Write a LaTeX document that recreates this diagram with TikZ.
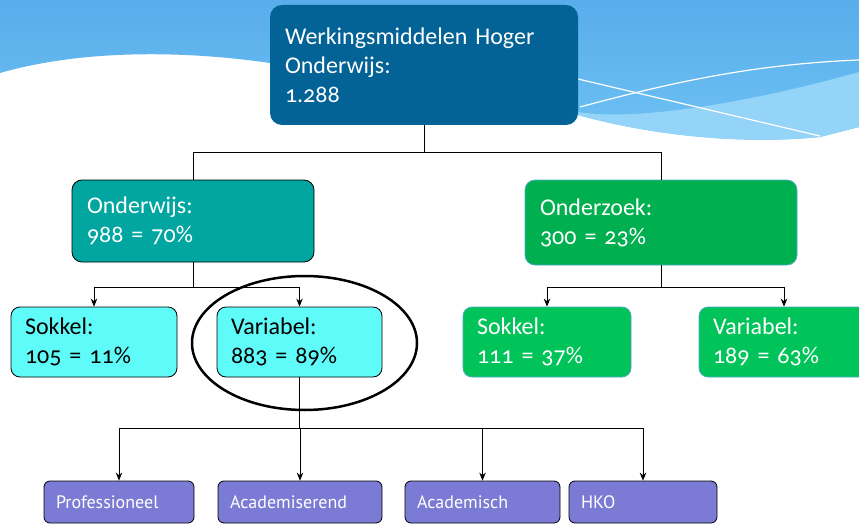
\documentclass[tikz,border=0pt]{standalone}
\usepackage{fontspec}
\setmainfont{Carlito}[Numbers=OldStyle]
\newfontfamily\typefont{PT Sans}
\usetikzlibrary{shapes.geometric, arrows.meta}
\definecolor{topblue}{HTML}{036396}
\definecolor{owteal}{HTML}{00A69F}
\definecolor{ozgreen}{HTML}{00B050}
\definecolor{lowcyan}{HTML}{5FFBF9}
\definecolor{lowgreen}{HTML}{00C35A}
\definecolor{typeblue}{HTML}{7B7BD5}
\definecolor{edgeblue}{HTML}{4BACC6}
\definecolor{skytop}{HTML}{58ADEB}
\definecolor{skylow}{HTML}{6EC2F3}
\definecolor{skylight}{HTML}{93D4F8}
\tikzstyle{topbox} = [rectangle, rounded corners=12pt, minimum width=308pt, minimum height=120pt, inner xsep=15pt, inner ysep=0pt, align=left, fill=topblue, text=white, font=\fontsize{24}{29}\selectfont]
\tikzstyle{midbox} = [rectangle, rounded corners=10pt, inner xsep=15pt, inner ysep=0pt, align=left, text=white, line width=0.8pt, font=\fontsize{24}{29}\selectfont]
\tikzstyle{lowbox} = [rectangle, rounded corners=9pt, minimum height=70pt, inner xsep=14pt, inner ysep=0pt, align=left, line width=0.8pt, font=\fontsize{24}{29}\selectfont]
\tikzstyle{typebox} = [rectangle, rounded corners=6pt, minimum height=42pt, inner xsep=12pt, inner ysep=0pt, align=left, draw=black, fill=typeblue, text=white, line width=0.8pt, font=\typefont\fontsize{18}{20}\selectfont]
\tikzstyle{line} = [black, line width=0.8pt]
\tikzstyle{arrow} = [line,->,>={Stealth[length=8pt, width=6.5pt]}]

\begin{document}
\begin{tikzpicture}[x=1pt, y=-1pt]
\useasboundingbox (0,0) rectangle (859,524);
\clip (0,0) rectangle (859,524);

% sky and wave
\fill[white] (0,0) rectangle (859,524);
\shade[top color=skytop, bottom color=skylow] (0,0) -- (859,0) -- (859,127) -- (820,137) .. controls (740,145) and (650,135) .. (578,115) .. controls (480,90) and (400,72) .. (270,63) .. controls (180,50) and (80,50) .. (0,73) -- cycle;
\fill[skylight] (578,112) .. controls (640,122) and (760,100) .. (859,72) -- (859,127) -- (820,137) .. controls (740,145) and (650,135) .. (578,115) -- cycle;
\draw[white, line width=1.2pt] (578,79) -- (820,136);
\draw[white, line width=1.2pt] (580,107) .. controls (680,80) and (760,64) .. (859,60);

\node[topbox, text width=278pt] (top) at (424,65) {Werkingsmiddelen Hoger\\Onderwijs:\\1.288};

\node[midbox, draw=black, fill=owteal, minimum width=242pt, minimum height=82pt, text width=212pt] (ow) at (193,221) {Onderwijs:\\988 = 70\%};
\node[midbox, draw=edgeblue, fill=ozgreen, minimum width=272pt, minimum height=85pt, text width=242pt] (oz) at (661,222.5) {Onderzoek:\\300 = 23\%};

\node[lowbox, draw=black, fill=lowcyan, minimum width=166pt, text width=138pt] (s1) at (94,342) {Sokkel:\\105 = 11\%};
\node[lowbox, draw=black, fill=lowcyan, minimum width=165pt, text width=137pt] (v1) at (299.5,342) {Variabel:\\883 = 89\%};
\node[lowbox, draw=edgeblue, fill=lowgreen, text=white, minimum width=168pt, text width=140pt] (s2) at (547,342) {Sokkel:\\111 = 37\%};
\node[lowbox, draw=edgeblue, fill=lowgreen, text=white, minimum width=170pt, text width=142pt] (v2) at (784,342) {Variabel:\\189 = 63\%};

\coordinate (jtop) at (424,152);
\coordinate (jow) at (193,287);
\coordinate (joz) at (661,287);
\coordinate (jv) at (299.5,428);

\draw[line] (top.south) -- (jtop) -| (ow.north);
\draw[line] (jtop) -| (oz.north);
\draw[line] (ow.south) -- (jow);
\draw[arrow] (jow) -| (s1.north);
\draw[arrow] (jow) -| (v1.north);
\draw[line] (oz.south) -- (joz);
\draw[arrow] (joz) -| (s2.north);
\draw[arrow] (joz) -| (v2.north);
\draw[line] (v1.south) -- (jv);

\foreach \x/\w/\n/\t in {119/150/pro/Professioneel, 300/164/acr/Academiserend, 482.5/155/aca/Academisch, 643/148/hko/HKO}{
	\pgfmathsetmacro\tw{\w-24}
	\node[typebox, minimum width=\w pt, text width=\tw pt] (\n) at (\x,502) {\t};
	\draw[arrow] (jv) -| (\n.north);
}

\draw[line width=2.5pt] (304.5,343) ellipse (112.5 and 67);

\end{tikzpicture}
\end{document}
